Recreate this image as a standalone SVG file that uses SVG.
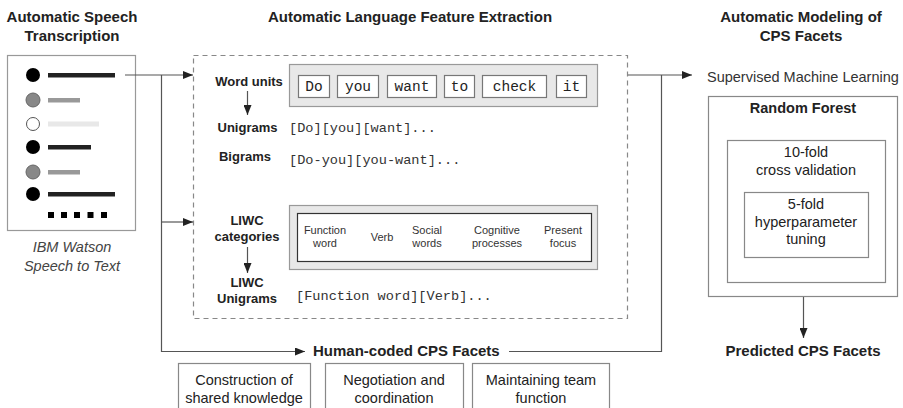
<svg xmlns="http://www.w3.org/2000/svg" width="903" height="408" viewBox="0 0 903 408">
<style>
text{font-family:"Liberation Sans",Arial,sans-serif;fill:#222}
.title{font-size:15px;font-weight:bold}
.lbl{font-size:13px;font-weight:bold}
.reg{font-size:14.5px}
.sm{font-size:11px;fill:#333}
.mono{font-family:"Liberation Mono","Courier New",monospace;font-size:13.6px;fill:#333}
.wmono{font-family:"Liberation Mono","Courier New",monospace;font-size:14.5px;fill:#222}
.box{fill:#fff;stroke:#999;stroke-width:1.2}
.gbox{fill:#e8e8e8;stroke:#999;stroke-width:1.2}
.wbox{fill:#fff;stroke:#777;stroke-width:1.2}
.conn{fill:none;stroke:#555;stroke-width:1.2}
</style>
<defs>
<marker id="ah" viewBox="0 0 10 8" refX="10" refY="4" markerWidth="10" markerHeight="8" markerUnits="userSpaceOnUse" orient="auto">
<path d="M0,0 L10,4 L0,8 z" fill="#222"/>
</marker>
</defs>

<g id="titles">
<text class="title" x="72" y="22" text-anchor="middle">Automatic Speech</text>
<text class="title" x="72" y="41" text-anchor="middle">Transcription</text>
<text class="title" x="410" y="22" text-anchor="middle">Automatic Language Feature Extraction</text>
<text class="title" x="801" y="22" text-anchor="middle">Automatic Modeling of</text>
<text class="title" x="801" y="41" text-anchor="middle">CPS Facets</text>
</g>

<g id="transcription">
<rect class="box" x="7.5" y="55.5" width="128" height="175" stroke="#999"/>
<circle cx="33" cy="75" r="7" fill="#000"/>
<rect x="48" y="73" width="67" height="4.5" fill="#222"/>
<circle cx="33" cy="100" r="7" fill="#888" stroke="#666"/>
<rect x="48" y="98" width="32" height="4.5" fill="#999"/>
<circle cx="33" cy="124" r="6.5" fill="#fff" stroke="#555" stroke-width="1"/>
<rect x="48" y="121.5" width="51" height="5" fill="#e8e8e8"/>
<circle cx="33" cy="147" r="7" fill="#000"/>
<rect x="48" y="145" width="43" height="4.5" fill="#222"/>
<circle cx="33" cy="172" r="7" fill="#888" stroke="#666"/>
<rect x="48" y="170" width="32" height="4.5" fill="#999"/>
<circle cx="33" cy="194" r="7" fill="#000"/>
<rect x="48" y="192" width="67" height="4.5" fill="#222"/>
<rect x="48" y="212" width="6" height="6" fill="#000"/>
<rect x="61" y="212" width="6" height="6" fill="#000"/>
<rect x="74" y="212" width="6" height="6" fill="#000"/>
<rect x="87.5" y="212" width="6" height="6" fill="#000"/>
<rect x="101" y="212" width="6" height="6" fill="#000"/>
<text class="reg" x="72" y="252" text-anchor="middle" font-style="italic" style="fill:#444">IBM Watson</text>
<text class="reg" x="72" y="271" text-anchor="middle" font-style="italic" style="fill:#444">Speech to Text</text>
</g>

<g id="extraction">
<rect x="193.5" y="55.5" width="434" height="263" fill="none" stroke="#888" stroke-width="1.2" stroke-dasharray="5,4"/>
</g>

<g id="word-units">
<text class="lbl" x="249" y="86" text-anchor="middle">Word units</text>
<rect class="gbox" x="289.5" y="64.5" width="308" height="42"/>
<rect class="wbox" x="298.5" y="75.5" width="31" height="22"/>
<text class="wmono" x="314" y="91" text-anchor="middle">Do</text>
<rect class="wbox" x="337.5" y="75.5" width="41" height="22"/>
<text class="wmono" x="358" y="91" text-anchor="middle">you</text>
<rect class="wbox" x="387.5" y="75.5" width="49" height="22"/>
<text class="wmono" x="412" y="91" text-anchor="middle">want</text>
<rect class="wbox" x="444.5" y="75.5" width="30" height="22"/>
<text class="wmono" x="459.5" y="91" text-anchor="middle">to</text>
<rect class="wbox" x="482.5" y="75.5" width="64" height="22"/>
<text class="wmono" x="514.5" y="91" text-anchor="middle">check</text>
<rect class="wbox" x="556.5" y="75.5" width="30" height="22"/>
<text class="wmono" x="571.5" y="91" text-anchor="middle">it</text>
</g>

<g id="unigrams">
<text class="lbl" x="247.5" y="132" text-anchor="middle">Unigrams</text>
<text class="mono" x="289" y="132">[Do][you][want]...</text>
</g>

<g id="bigrams">
<text class="lbl" x="245" y="161" text-anchor="middle">Bigrams</text>
<text class="mono" x="289" y="164">[Do-you][you-want]...</text>
</g>

<g id="liwc-categories">
<text class="lbl" x="247" y="225" text-anchor="middle">LIWC</text>
<text class="lbl" x="247" y="241" text-anchor="middle">categories</text>
<rect class="gbox" x="289.5" y="205.5" width="308" height="64"/>
<rect x="297.5" y="213.5" width="294" height="48" fill="#fff" stroke="#333" stroke-width="1.2"/>
<text class="sm" x="325" y="234" text-anchor="middle">Function</text>
<text class="sm" x="325" y="247" text-anchor="middle">word</text>
<text class="sm" x="382" y="241" text-anchor="middle">Verb</text>
<text class="sm" x="427" y="234" text-anchor="middle">Social</text>
<text class="sm" x="427" y="247" text-anchor="middle">words</text>
<text class="sm" x="497" y="234" text-anchor="middle">Cognitive</text>
<text class="sm" x="497" y="247" text-anchor="middle">processes</text>
<text class="sm" x="563" y="234" text-anchor="middle">Present</text>
<text class="sm" x="563" y="247" text-anchor="middle">focus</text>
</g>

<g id="liwc-unigrams">
<text class="lbl" x="247" y="287" text-anchor="middle">LIWC</text>
<text class="lbl" x="247" y="303" text-anchor="middle">Unigrams</text>
<text class="mono" x="296" y="300">[Function word][Verb]...</text>
</g>

<g id="supervised-ml">
<text class="reg" x="707" y="82" style="fill:#333">Supervised Machine Learning</text>
</g>

<g id="random-forest">
<rect x="708.5" y="96.5" width="189" height="200" fill="#fff" stroke="#888" stroke-width="1.2"/>
<text class="reg" x="803" y="113" text-anchor="middle" font-weight="bold">Random Forest</text>
</g>

<g id="cross-validation">
<rect x="727.5" y="140.5" width="158" height="142" fill="#fff" stroke="#888" stroke-width="1.2"/>
<text class="reg" x="806" y="157" text-anchor="middle">10-fold</text>
<text class="reg" x="806" y="175" text-anchor="middle">cross validation</text>
</g>

<g id="hyperparameter-tuning">
<rect x="744.5" y="192.5" width="124" height="65" fill="#fff" stroke="#888" stroke-width="1.2"/>
<text class="reg" x="806" y="209" text-anchor="middle">5-fold</text>
<text class="reg" x="806" y="227" text-anchor="middle">hyperparameter</text>
<text class="reg" x="806" y="244" text-anchor="middle">tuning</text>
</g>

<g id="predicted">
<text class="title" x="803" y="356" text-anchor="middle">Predicted CPS Facets</text>
</g>

<g id="human-coded">
<text class="title" x="313" y="356">Human-coded CPS Facets</text>
</g>

<g id="facet-construction">
<rect x="178.5" y="363.5" width="132" height="50" fill="#fff" stroke="#888" stroke-width="1.2"/>
<text class="reg" x="244" y="385" text-anchor="middle">Construction of</text>
<text class="reg" x="244" y="403" text-anchor="middle">shared knowledge</text>
</g>
<g id="facet-negotiation">
<rect x="325.5" y="363.5" width="138" height="50" fill="#fff" stroke="#888" stroke-width="1.2"/>
<text class="reg" x="394" y="385" text-anchor="middle">Negotiation and</text>
<text class="reg" x="394" y="403" text-anchor="middle">coordination</text>
</g>
<g id="facet-maintaining">
<rect x="472.5" y="363.5" width="137" height="50" fill="#fff" stroke="#888" stroke-width="1.2"/>
<text class="reg" x="541" y="385" text-anchor="middle">Maintaining team</text>
<text class="reg" x="541" y="403" text-anchor="middle">function</text>
</g>

<g id="connectors">
<path class="conn" d="M125,75 H193" marker-end="url(#ah)"/>
<path class="conn" d="M161.5,75 V351.5 H305" marker-end="url(#ah)"/>
<path class="conn" d="M161.5,222 H193" marker-end="url(#ah)"/>
<path class="conn" d="M247.5,91 V115" marker-end="url(#ah)"/>
<path class="conn" d="M247.5,247 V273" marker-end="url(#ah)"/>
<path class="conn" d="M628,75 H692" marker-end="url(#ah)"/>
<path class="conn" d="M661.5,75 V351.5 H509"/>
<path class="conn" d="M803.5,297 V338" marker-end="url(#ah)"/>
</g>
</svg>
